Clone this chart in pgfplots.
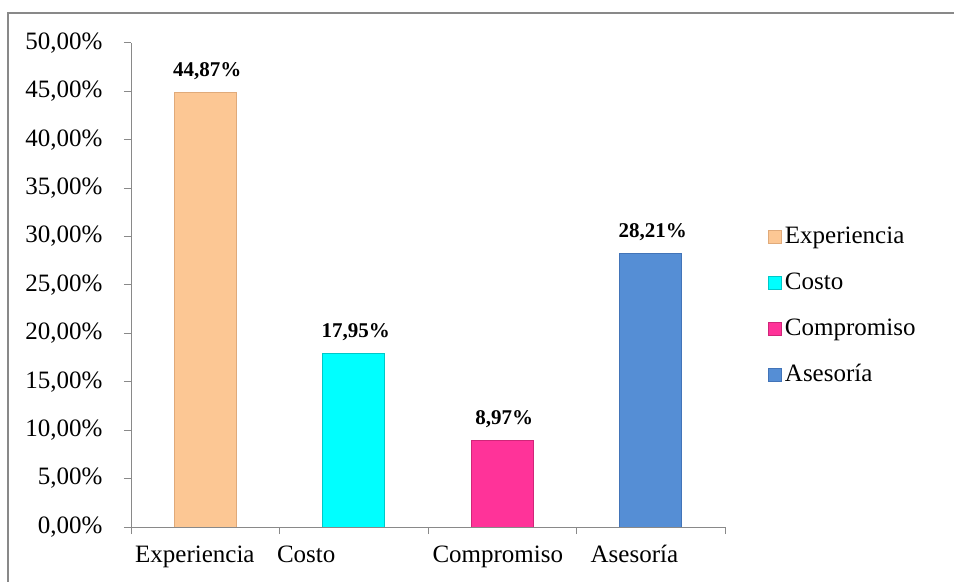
\documentclass[border=0pt]{standalone}
\usepackage{fontspec}
\setmainfont{Liberation Serif}
\usepackage{pgfplots}
\pgfplotsset{compat=1.18}
\definecolor{axisgray}{HTML}{898989}
\definecolor{cExp}{HTML}{FCC794}
\definecolor{cExpE}{HTML}{E0AA7A}
\definecolor{cCos}{HTML}{00FFFF}
\definecolor{cCosE}{HTML}{00C8C8}
\definecolor{cCom}{HTML}{FF3399}
\definecolor{cComE}{HTML}{D02679}
\definecolor{cAse}{HTML}{558ED5}
\definecolor{cAseE}{HTML}{4274B8}
\begin{document}
\fontsize{25bp}{30bp}\selectfont
\begin{tikzpicture}
\useasboundingbox (0,0) rectangle (954bp,582bp);
\draw[axisgray, line width=1.3bp] (8bp,-10bp) rectangle (980bp,569bp);
\begin{axis}[
  at={(131bp,55bp)}, anchor=south west,
  scale only axis, width=594bp, height=484bp,
  xmin=-0.5, xmax=3.5, ymin=0, ymax=50,
  ybar, bar width=62bp, bar shift=0pt,
  legend image code/.code={\draw[#1] (0bp,-6.5bp) rectangle (13bp,6.5bp);},
  axis x line*=bottom, axis y line*=left,
  axis line style={axisgray, line width=1bp},
  tick align=outside, major tick length=7bp,
  tick style={axisgray, line width=1bp},
  /pgf/number format/assume math mode=true,
  ytick={0,5,...,50},
  yticklabel={\pgfmathprintnumber[fixed,fixed zerofill,precision=2,use comma]{\tick}\%},
  yticklabel style={xshift=-13bp},
  xtick={-0.5,0.5,1.5,2.5,3.5}, xticklabels={},
  extra x ticks={-0.07,0.68,1.97,2.89},
  extra x tick labels={Experiencia,Costo,Compromiso,Asesoría},
  extra x tick style={major tick length=0pt, xticklabel style={yshift=-10bp}},
  nodes near coords={\pgfmathprintnumber[fixed,fixed zerofill,precision=2,use comma]{\pgfplotspointmeta}\%},
  nodes near coords style={font=\fontsize{21bp}{25bp}\selectfont\bfseries, yshift=4bp, xshift=2bp},
  legend style={draw=none, fill=none, at={(1.072,0.622)}, anchor=north west,
    inner sep=0pt, row sep=24bp,
    nodes={text height=17bp, text depth=5bp, inner ysep=0pt, inner xsep=3bp}},
  legend cell align=left,
]
\addplot[fill=cExp, draw=cExpE, line width=1bp] coordinates {(0,44.87)};
\addplot[fill=cCos, draw=cCosE, line width=1bp] coordinates {(1,17.95)};
\addplot[fill=cCom, draw=cComE, line width=1bp] coordinates {(2,8.97)};
\addplot[fill=cAse, draw=cAseE, line width=1bp] coordinates {(3,28.21)};
\legend{Experiencia,Costo,Compromiso,Asesoría}
\end{axis}
\end{tikzpicture}
\end{document}
